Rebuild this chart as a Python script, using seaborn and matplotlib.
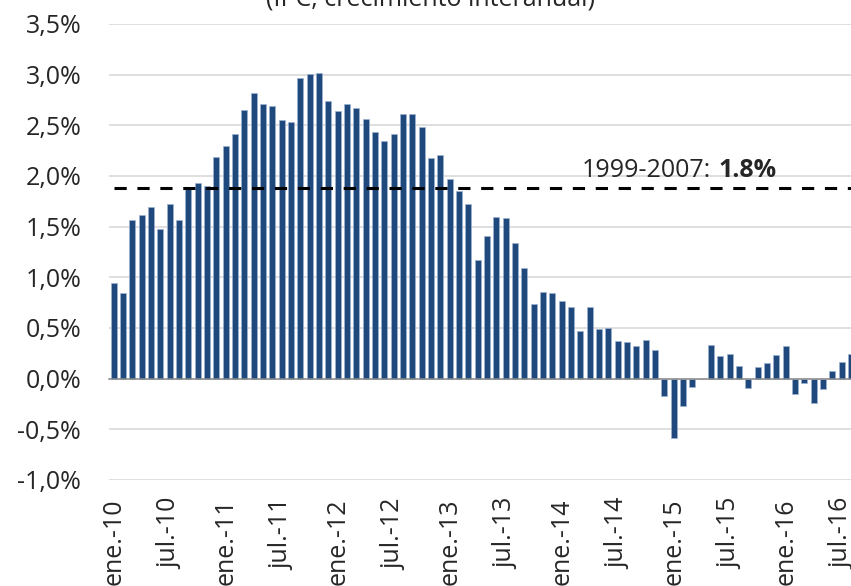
import matplotlib
matplotlib.use("Agg")
import matplotlib.pyplot as plt
import seaborn as sns

# Datos: IPC, crecimiento interanual (%), mensual ene.-10 a ago.-16
meses = ["ene.", "feb.", "mar.", "abr.", "may.", "jun.",
         "jul.", "ago.", "sept.", "oct.", "nov.", "dic."]
anios = ["10", "11", "12", "13", "14", "15", "16"]
periodos = [f"{m}-{a}" for a in anios for m in meses][:80]

ipc = [
    0.94, 0.845, 1.57, 1.62, 1.69, 1.48, 1.72, 1.57, 1.87, 1.93, 1.90, 2.19,
    2.30, 2.41, 2.65, 2.82, 2.71, 2.69, 2.55, 2.53, 2.97, 3.01, 3.02, 2.74,
    2.64, 2.71, 2.67, 2.56, 2.43, 2.35, 2.41, 2.61, 2.61, 2.48, 2.18, 2.21,
    1.97, 1.85, 1.72, 1.17, 1.41, 1.60, 1.59, 1.34, 1.09, 0.74, 0.855, 0.845,
    0.77, 0.71, 0.47, 0.71, 0.49, 0.50, 0.37, 0.36, 0.32, 0.38, 0.28, -0.17,
    -0.59, -0.27, -0.08, 0.0, 0.335, 0.22, 0.24, 0.125, -0.09, 0.115, 0.15, 0.23,
    0.32, -0.155, -0.04, -0.24, -0.10, 0.075, 0.16, 0.24,
]

media_1999_2007 = 1.88
texto_media = "1999-2007:"
valor_media = "1.8%"
titulo = "(IPC, crecimiento interanual)"
yticks = [-1.0, -0.5, 0.0, 0.5, 1.0, 1.5, 2.0, 2.5, 3.0, 3.5]

azul = "#1F497D"
gris = "#8c8c8c"

sns.set_style("white")
plt.rcParams["font.family"] = ["Open Sans", "DejaVu Sans"]

fig = plt.figure(figsize=(8.51, 5.86), dpi=100)
ax = fig.add_axes([109 / 851, 106 / 586, (855.7 - 109) / 851, 456 / 586])

sns.barplot(x=periodos, y=ipc, color=azul, saturation=1, width=0.66,
            edgecolor="#9db3d1", linewidth=0.5, ax=ax)

# Media 1999-2007
ax.plot([0, 79.5], [media_1999_2007, media_1999_2007], color="black",
        lw=2.2, dashes=(4, 3.5), zorder=3)
t1 = ax.text(71.0, 1.99, valor_media, fontsize=18, fontweight="bold",
             ha="right", va="baseline")
ax.annotate(texto_media, xy=(0, 0), xycoords=t1, xytext=(-5, 0),
            textcoords="offset points", ha="right", va="bottom", fontsize=18)

ax.set_xlim(-0.5, 79.5)
ax.set_ylim(-1.0, 3.5)
ax.set_yticks(yticks)
ax.set_yticklabels([f"{v:.1f}%".replace(".", ",") for v in yticks])
ax.tick_params(axis="y", length=0, pad=20, labelsize=18)
ax.yaxis.grid(True, color="#d9d9d9", lw=1.2)
ax.set_axisbelow(True)

# Eje x en el cero, marcas entre categorias
pos = list(range(0, 80, 6))
ax.set_xticks([p - 0.5 for p in pos])
ax.tick_params(axis="x", length=6.5, width=1.1, color=gris,
               direction="out", labelbottom=False)
ax.spines["bottom"].set_position(("data", 0))
ax.spines["bottom"].set_color(gris)
ax.spines["bottom"].set_linewidth(1.1)
for s in ["left", "top", "right"]:
    ax.spines[s].set_visible(False)
ax.set_xlabel("")
ax.set_ylabel("")

# Etiquetas en la parte inferior
sec = ax.secondary_xaxis(0)
sec.set_xticks(pos, labels=[periodos[p] for p in pos])
sec.tick_params(length=0, pad=13, labelsize=18, labelrotation=90)
sec.spines["bottom"].set_visible(False)

fig.text(431 / 851, 1 - 5 / 586, titulo, ha="center", va="baseline", fontsize=18)

fig.savefig("out.png", dpi=100)
